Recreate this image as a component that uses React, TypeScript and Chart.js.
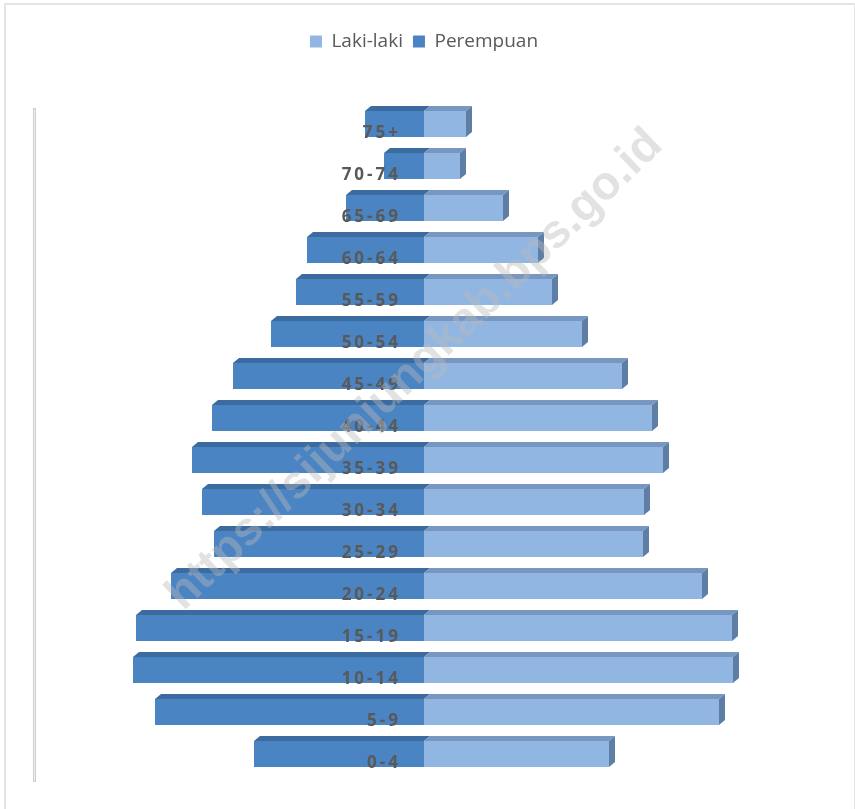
import { useEffect, useRef } from "react";
import { Chart, registerables } from "chart.js";

Chart.register(...registerables);

// age groups, top of the pyramid first
const AGE_GROUPS = [
  "75+", "70-74", "65-69", "60-64", "55-59", "50-54", "45-49", "40-44",
  "35-39", "30-34", "25-29", "20-24", "15-19", "10-14", "5-9", "0-4",
];

// (jiwa)
const LAKI_LAKI = [
  1680, 1440, 3160, 4560, 5120, 6320, 7920, 9120,
  9560, 8800, 8760, 11120, 12320, 12360, 11800, 7400,
];

const PEREMPUAN = [
  2360, 1600, 3120, 4680, 5120, 6120, 7640, 8480,
  9280, 8880, 8400, 10120, 11520, 11640, 10760, 6800,
];

const X_LIMIT = 15600;

const MALE_COLOR = "#92b6e2";
const FEMALE_COLOR = "#4a84c2";
const WATERMARK = "https://sijunjungkab.bps.go.id";

// pushes the plot down below the legend
const legendGap = {
  id: "legendGap",
  beforeInit(chart: any) {
    const legend = chart.legend;
    if (!legend) return;
    const fit = legend.fit;
    legend.fit = function () {
      fit.bind(legend)();
      this.height += 42;
    };
  },
};

// fake 3D: top faces + right side face, then category labels and watermark
const pyramidDecor = {
  id: "pyramidDecor",
  beforeDatasetsDraw(chart: any) {
    const { ctx, chartArea } = chart;
    const x = chartArea.left;
    ctx.save();
    ctx.fillStyle = "#cfcfcf";
    ctx.fillRect(x - 1, chartArea.top + 5, 3, chartArea.bottom - chartArea.top + 2);
    ctx.fillStyle = "#eeeeee";
    ctx.fillRect(x, chartArea.top + 6, 1, chartArea.bottom - chartArea.top);
    ctx.restore();
  },
  afterDatasetsDraw(chart: any) {
    const { ctx } = chart;
    const male = chart.getDatasetMeta(0).data;
    const female = chart.getDatasetMeta(1).data;
    const zero = chart.scales.x.getPixelForValue(0);
    const dx = 6;
    const dy = 5;

    ctx.save();
    male.forEach((m: any, i: number) => {
      const f = female[i];
      const top = m.y - m.height / 2;
      const bottom = m.y + m.height / 2;
      const left = f.x;
      const right = m.x;

      // top face, female part
      ctx.fillStyle = "#3b6b9f";
      ctx.beginPath();
      ctx.moveTo(left, top);
      ctx.lineTo(left + dx, top - dy);
      ctx.lineTo(zero + dx, top - dy);
      ctx.lineTo(zero, top);
      ctx.closePath();
      ctx.fill();

      // top face, male part
      ctx.fillStyle = "#7797c0";
      ctx.beginPath();
      ctx.moveTo(zero, top);
      ctx.lineTo(zero + dx, top - dy);
      ctx.lineTo(right + dx, top - dy);
      ctx.lineTo(right, top);
      ctx.closePath();
      ctx.fill();

      // side face
      ctx.fillStyle = "#5e7ea6";
      ctx.beginPath();
      ctx.moveTo(right, top);
      ctx.lineTo(right + dx, top - dy);
      ctx.lineTo(right + dx, bottom - dy);
      ctx.lineTo(right, bottom);
      ctx.closePath();
      ctx.fill();
    });

    // category labels, right aligned just left of the zero line
    ctx.font = 'bold 17px "Open Sans"';
    ctx.fillStyle = "#595959";
    ctx.textAlign = "right";
    ctx.textBaseline = "alphabetic";
    (ctx as any).letterSpacing = "3px";
    male.forEach((m: any, i: number) => {
      const bottom = m.y + m.height / 2;
      ctx.fillText(AGE_GROUPS[i], zero - 23, bottom + 1);
    });
    (ctx as any).letterSpacing = "0px";

    // watermark
    ctx.translate(415, 370);
    ctx.rotate((-44 * Math.PI) / 180);
    ctx.font = 'bold 47px "Liberation Sans", Arial';
    ctx.textAlign = "center";
    ctx.textBaseline = "middle";
    ctx.fillStyle = "rgba(185,185,185,0.42)";
    ctx.fillText(WATERMARK, 0, 0);
    ctx.restore();
  },
};

export default function App() {
  const canvasRef = useRef<HTMLCanvasElement>(null);

  useEffect(() => {
    if (!canvasRef.current) return;

    const chart = new Chart(canvasRef.current, {
      type: "bar",
      data: {
        labels: AGE_GROUPS,
        datasets: [
          {
            label: "Laki-laki",
            data: LAKI_LAKI,
            backgroundColor: MALE_COLOR,
            borderWidth: 0,
            barPercentage: 0.62,
            categoryPercentage: 1,
          },
          {
            label: "Perempuan",
            data: PEREMPUAN.map((v) => -v),
            backgroundColor: FEMALE_COLOR,
            borderWidth: 0,
            barPercentage: 0.62,
            categoryPercentage: 1,
          },
        ],
      },
      options: {
        indexAxis: "y",
        responsive: true,
        maintainAspectRatio: false,
        animation: false,
        layout: { padding: { left: 34, right: 41, top: 22, bottom: 34 } },
        scales: {
          x: { display: false, stacked: true, min: -X_LIMIT, max: X_LIMIT },
          y: { display: false, stacked: true },
        },
        plugins: {
          legend: {
            position: "top",
            labels: {
              boxWidth: 12,
              boxHeight: 12,
              padding: 10,
              color: "#595959",
              font: { family: '"Open Sans"', size: 19 },
            },
          },
          tooltip: { enabled: false },
        },
      },
      plugins: [legendGap, pyramidDecor],
    });

    return () => chart.destroy();
  }, []);

  return (
    <div style={{ position: "absolute", left: 0, top: 0, width: 855, height: 809, background: "#fff", overflow: "hidden" }}>
      <div
        style={{
          position: "absolute",
          left: 4,
          top: 3,
          width: 848,
          height: 820,
          border: "2px solid #e4e4e4",
        }}
      />
      <div style={{ position: "absolute", left: 0, top: 0, width: 855, height: 809 }}>
        <canvas ref={canvasRef} />
      </div>
    </div>
  );
}
